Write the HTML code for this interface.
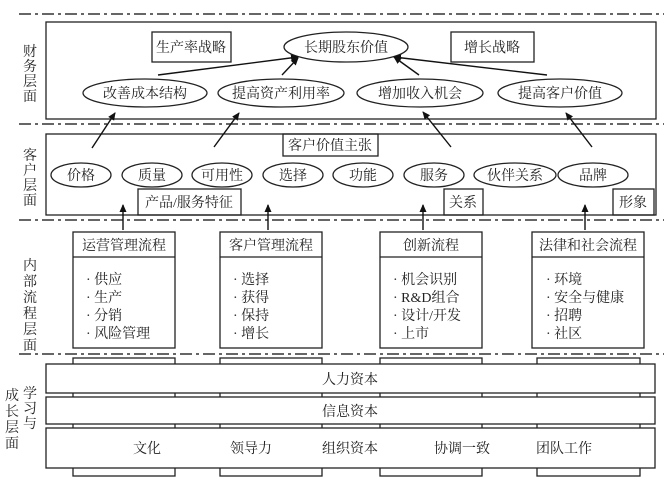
<!DOCTYPE html>
<html><head><meta charset="utf-8"><style>
html,body{margin:0;padding:0;background:#fff}
svg{display:block}
text{font-family:"Liberation Serif","Noto Serif CJK SC","Noto Sans CJK SC",serif;font-size:14px;fill:#222}
</style></head><body>
<svg width="666" height="496" viewBox="0 0 666 496" xmlns="http://www.w3.org/2000/svg">
<defs><marker id="a" markerWidth="8" markerHeight="8" refX="7" refY="4" orient="auto" markerUnits="userSpaceOnUse"><path d="M0,0.5 L8,4 L0,7.5 z" fill="#111"/></marker></defs>
<g stroke="#333" stroke-width="1.6" stroke-dasharray="12,4,3,4" fill="none">
<line x1="19" y1="14" x2="664" y2="14"/><line x1="19" y1="124" x2="664" y2="124"/>
<line x1="19" y1="220" x2="664" y2="220"/><line x1="19" y1="354" x2="664" y2="354"/>
</g>
<g fill="none" stroke="#222" stroke-width="1.3">
<rect x="46" y="22" width="610" height="97"/>
<rect x="152" y="32" width="79" height="30"/>
<ellipse cx="346" cy="47" rx="62" ry="15"/>
<rect x="451" y="32" width="83" height="30"/>
<ellipse cx="145" cy="93" rx="62" ry="14"/>
<ellipse cx="281" cy="93" rx="63" ry="14"/>
<ellipse cx="420" cy="93" rx="63" ry="14"/>
<ellipse cx="560" cy="93" rx="62" ry="14"/>
<rect x="46" y="134" width="610" height="81"/>
<rect x="283" y="134" width="95" height="22"/>
<ellipse cx="81" cy="175" rx="30" ry="12"/>
<ellipse cx="152" cy="175" rx="30" ry="12"/>
<ellipse cx="222" cy="175" rx="30" ry="12"/>
<ellipse cx="293" cy="175" rx="30" ry="12"/>
<ellipse cx="363" cy="175" rx="30" ry="12"/>
<ellipse cx="434" cy="175" rx="30" ry="12"/>
<ellipse cx="515" cy="175" rx="41" ry="12"/>
<ellipse cx="593" cy="175" rx="35" ry="12"/>
<rect x="138" y="189" width="103" height="26"/>
<rect x="444" y="189" width="39" height="26"/>
<rect x="613" y="189" width="41" height="26"/>
<rect x="73" y="232" width="102" height="116"/><line x1="73" y1="257" x2="175" y2="257"/>
<rect x="220" y="232" width="102" height="116"/><line x1="220" y1="257" x2="322" y2="257"/>
<rect x="380" y="232" width="102" height="116"/><line x1="380" y1="257" x2="482" y2="257"/>
<rect x="532" y="232" width="112" height="116"/><line x1="532" y1="257" x2="644" y2="257"/>
<rect x="73" y="358" width="102" height="118"/>
<rect x="220" y="358" width="102" height="118"/>
<rect x="380" y="358" width="102" height="118"/>
<rect x="537" y="358" width="103" height="118"/>
</g>
<g fill="#fff" stroke="#222" stroke-width="1.3">
<rect x="46" y="364" width="609" height="29"/>
<rect x="46" y="397" width="609" height="27"/>
<rect x="46" y="428" width="609" height="40"/>
</g>
<g stroke="#111" stroke-width="1.4" marker-end="url(#a)">
<line x1="158" y1="75" x2="298" y2="57"/>
<line x1="282" y1="75" x2="298" y2="58"/>
<line x1="419" y1="75" x2="394" y2="57"/>
<line x1="547" y1="75" x2="394" y2="57"/>
<line x1="92" y1="148" x2="115" y2="113"/>
<line x1="214" y1="147" x2="239" y2="113"/>
<line x1="451" y1="147" x2="423" y2="112"/>
<line x1="592" y1="147" x2="566" y2="113"/>
<line x1="123" y1="230" x2="123" y2="205"/>
<line x1="268" y1="230" x2="268" y2="205"/>
<line x1="423" y1="230" x2="423" y2="205"/>
<line x1="585" y1="230" x2="585" y2="205"/>
</g>
<g text-anchor="middle">
<text x="191" y="52">生产率战略</text>
<text x="346" y="52">长期股东价值</text>
<text x="492" y="52">增长战略</text>
<text x="145" y="98">改善成本结构</text>
<text x="281" y="98">提高资产利用率</text>
<text x="420" y="98">增加收入机会</text>
<text x="560" y="98">提高客户价值</text>
<text x="330" y="150">客户价值主张</text>
<text x="81" y="180">价格</text><text x="152" y="180">质量</text><text x="222" y="180">可用性</text>
<text x="293" y="180">选择</text><text x="363" y="180">功能</text><text x="434" y="180">服务</text>
<text x="515" y="180">伙伴关系</text><text x="593" y="180">品牌</text>
<text x="189" y="207">产品/服务特征</text>
<text x="463" y="207">关系</text>
<text x="633" y="207">形象</text>
<text x="124" y="250">运营管理流程</text>
<text x="271" y="250">客户管理流程</text>
<text x="431" y="250">创新流程</text>
<text x="588" y="250">法律和社会流程</text>
<text x="350" y="384">人力资本</text>
<text x="350" y="416">信息资本</text>
<text x="147" y="453">文化</text><text x="251" y="453">领导力</text><text x="350" y="453">组织资本</text>
<text x="462" y="453">协调一致</text><text x="564" y="453">团队工作</text>
</g>
<g>
<text x="86" y="284">· 供应</text><text x="86" y="302">· 生产</text><text x="86" y="320">· 分销</text><text x="86" y="338">· 风险管理</text>
<text x="233" y="284">· 选择</text><text x="233" y="302">· 获得</text><text x="233" y="320">· 保持</text><text x="233" y="338">· 增长</text>
<text x="393" y="284">· 机会识别</text><text x="393" y="302">· R&amp;D组合</text><text x="393" y="320">· 设计/开发</text><text x="393" y="338">· 上市</text>
<text x="546" y="284">· 环境</text><text x="546" y="302">· 安全与健康</text><text x="546" y="320">· 招聘</text><text x="546" y="338">· 社区</text>
</g>
<g text-anchor="middle" style="font-size:14px">
<text x="30" y="56">财</text><text x="30" y="71">务</text><text x="30" y="86">层</text><text x="30" y="101">面</text>
<text x="30" y="160">客</text><text x="30" y="175">户</text><text x="30" y="190">层</text><text x="30" y="205">面</text>
<text x="30" y="270">内</text><text x="30" y="286">部</text><text x="30" y="302">流</text><text x="30" y="318">程</text><text x="30" y="334">层</text><text x="30" y="350">面</text>
<text x="30" y="398">学</text><text x="30" y="413">习</text><text x="30" y="428">与</text>
<text x="12" y="400">成</text><text x="12" y="416">长</text><text x="12" y="432">层</text><text x="12" y="448">面</text>
</g>
</svg>
</body></html>
